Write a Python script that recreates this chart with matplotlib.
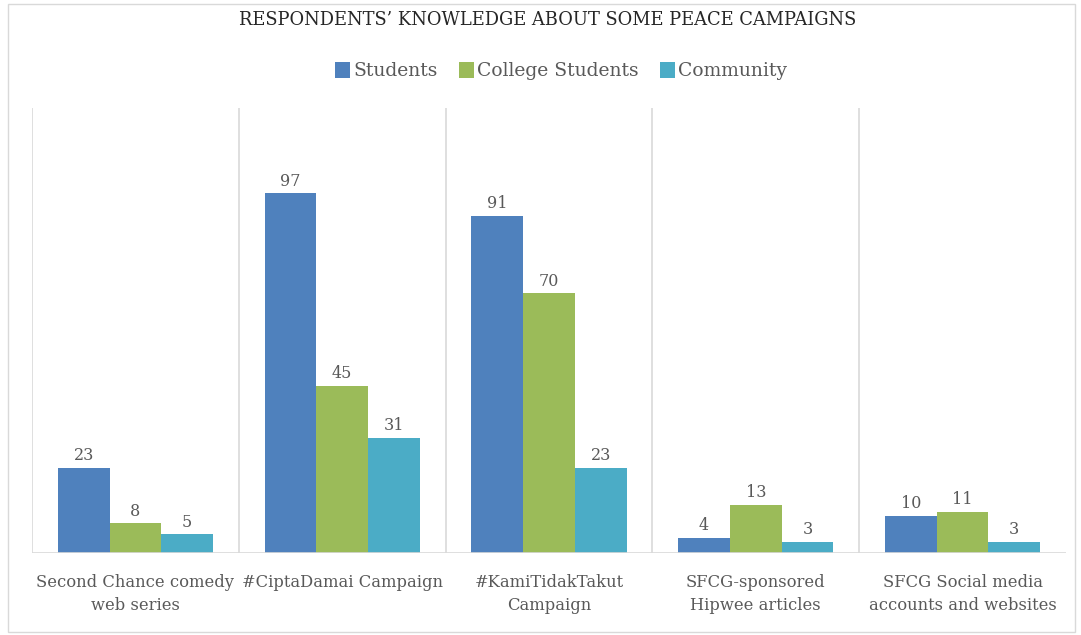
import numpy as np
import matplotlib
matplotlib.use("Agg")
import matplotlib.pyplot as plt
from matplotlib.patches import Rectangle

categories = ["Second Chance comedy\nweb series", "#CiptaDamai Campaign",
              "#KamiTidakTakut\nCampaign", "SFCG-sponsored\nHipwee articles",
              "SFCG Social media\naccounts and websites"]
students = [23, 97, 91, 4, 10]
college = [8, 45, 70, 13, 11]
community = [5, 31, 23, 3, 3]
series_names = ["Students", "College Students", "Community"]
colors = ["#4F81BD", "#9BBB59", "#4BACC6"]

plt.rcParams['font.family'] = ['DejaVu Serif']
grey = "#595959"

fig = plt.figure(figsize=(10.81, 6.35), dpi=100)
fig.patches.append(Rectangle((0.007, 0.004), 0.987, 0.99, transform=fig.transFigure,
                             fill=False, edgecolor="#d9d9d9", lw=1))
ax = fig.add_axes([32/1081, 1-553/635, 1034/1081, 445/635])

x = np.arange(len(categories))
w = 0.25
for i, (vals, name, c) in enumerate(zip([students, college, community], series_names, colors)):
    pos = x + (i - 1) * w
    bars = ax.bar(pos, vals, width=w, color=c, label=name, zorder=3)
    for b, v in zip(bars, vals):
        ax.text(b.get_x() + b.get_width()/2, v + 1.0, str(v), ha="center", va="bottom",
                fontsize=11.5, color=grey)

ax.set_xlim(-0.5, len(categories) - 0.5)
ax.set_ylim(0, 120)
for b in np.arange(len(categories)) - 0.5:
    ax.axvline(b, color="#d9d9d9", lw=1.2, zorder=1)
ax.axhline(0, color="#d9d9d9", lw=1.2, zorder=4)
for s in ax.spines.values():
    s.set_visible(False)
ax.set_yticks([])
ax.set_xticks(x)
ax.set_xticklabels(categories, fontsize=11.8, color=grey, linespacing=1.5)
ax.tick_params(axis="x", length=0, pad=15)

fig.text(0.507, 1-20/635, "RESPONDENTS’ KNOWLEDGE ABOUT SOME PEACE CAMPAIGNS",
         ha="center", va="center", fontsize=12.9, color="#262626")
fig.legend(loc="center", bbox_to_anchor=(0.519, 1-71/635), ncol=3, frameon=False,
           fontsize=13.5, handlelength=0.8, handleheight=1.0, handletextpad=0.2,
           columnspacing=1.1, labelcolor=grey)

fig.savefig("out.png", dpi=100)
